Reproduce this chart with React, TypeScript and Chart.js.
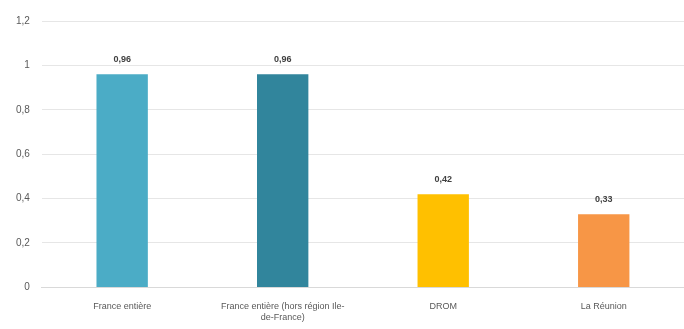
import React, { useEffect, useRef } from "react";
import { Chart, registerables } from "chart.js";

Chart.register(...registerables);

const categories: (string | string[])[] = [
  "France entière",
  ["France entière (hors région Ile-", "de-France)"],
  "DROM",
  "La Réunion",
];
const values = [0.96, 0.96, 0.42, 0.33];
const barColors = ["#4BACC6", "#31859C", "#FFC000", "#F79646"];
const yTicks = [0, 0.2, 0.4, 0.6, 0.8, 1, 1.2];

const fmt = (v: number) => {
  const s = Number.isInteger(v) ? String(v) : v.toFixed(1);
  return s.replace(".", ",");
};

const valueLabels = {
  id: "valueLabels",
  afterDatasetsDraw(chart: any) {
    const ctx = chart.ctx;
    const meta = chart.getDatasetMeta(0);
    ctx.save();
    ctx.font = "bold 9px 'Liberation Sans', Arial, sans-serif";
    ctx.fillStyle = "#404040";
    ctx.textAlign = "center";
    ctx.textBaseline = "middle";
    meta.data.forEach((bar: any, i: number) => {
      ctx.fillText(values[i].toFixed(2).replace(".", ","), bar.x, bar.y - 15);
    });
    ctx.restore();
  },
};

export default function App() {
  const ref = useRef<HTMLCanvasElement>(null);
  useEffect(() => {
    if (!ref.current) return;
    const chart = new Chart(ref.current, {
      type: "bar",
      data: {
        labels: categories,
        datasets: [
          {
            data: values,
            backgroundColor: barColors,
            categoryPercentage: 1,
            barPercentage: 0.32,
          },
        ],
      },
      options: {
        animation: false,
        responsive: false,
        maintainAspectRatio: false,
        layout: { padding: { top: 21, right: 0, left: 4, bottom: 0 } },
        plugins: { legend: { display: false }, tooltip: { enabled: false } },
        scales: {
          x: {
            grid: { display: false },
            border: { color: "#D9D9D9" },
            ticks: {
              color: "#595959",
              font: { family: "'Liberation Sans', Arial, sans-serif", size: 9 },
              maxRotation: 0,
              autoSkip: false,
              padding: 6,
            },
          },
          y: {
            min: 0,
            max: 1.2,
            afterBuildTicks(axis: any) {
              axis.ticks = yTicks.map((v) => ({ value: v }));
            },
            grid: { color: "#E6E6E6", drawTicks: false },
            border: { display: false },
            ticks: {
              color: "#595959",
              font: { family: "'Liberation Sans', Arial, sans-serif", size: 10 },
              padding: 12,
              callback: (v: any) => fmt(Number(v)),
            },
          },
        },
      },
      plugins: [valueLabels],
    });
    return () => chart.destroy();
  }, []);
  return (
    <div style={{ position: "absolute", left: 0, top: 0, width: 684, height: 329, background: "#fff" }}>
      <canvas ref={ref} width={684} height={329} />
    </div>
  );
}
